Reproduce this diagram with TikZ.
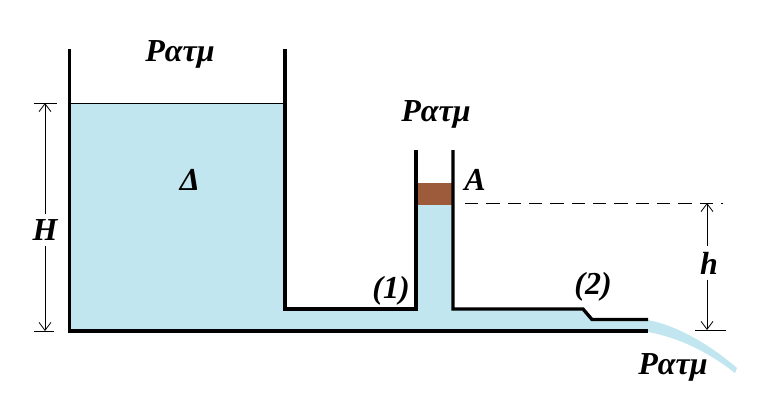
\documentclass[tikz,border=0pt]{standalone}
\usepackage{fontspec}
\setmainfont{Liberation Serif}
\usetikzlibrary{arrows.meta}
\definecolor{waterblue}{HTML}{C2E6F0}
\definecolor{pistonbrown}{HTML}{9E5B3C}
\tikzset{
	wall/.style={line width=2.5pt,line cap=butt},
	dimline/.style={line width=0.6pt,-{Straight Barb[length=6pt,width=9pt]}},
	tick/.style={line width=0.6pt},
	lbl/.style={font=\bfseries\itshape\fontsize{24}{24}\selectfont,inner sep=1pt}
}
\begin{document}
\begin{tikzpicture}[x=0.75pt,y=-0.75pt]
	\useasboundingbox (0,0) rectangle (771,412);
	% Water
	\fill[waterblue] (69,103) -- (285,103) -- (285,309) -- (416,309) -- (416,205) -- (453,205) -- (453,309) -- (583,309) -- (592,320) -- (648,320) -- (648,331) -- (69,331) -- cycle;
	\fill[waterblue] (648,320) .. controls (675,325) and (708,343) .. (737,368) -- (735,373) .. controls (708,352) and (680,338) .. (648,332) -- cycle;
	\fill[pistonbrown] (416,183) rectangle (453,205);
	% Walls
	\draw[wall] (69.5,49) -- (69.5,331) -- (648,331);
	\draw[wall] (285,49) -- (285,309) -- (416,309) -- (416,150);
	\draw[wall] (453,150) -- (453,309) -- (583,309) -- (592,319.5) -- (648,319.5);
	\draw[tick] (69,103) -- (285,103);
	% Labels
	\node[lbl] (patmtank) at (180,54) {Ρατμ};
	\node[lbl] (patmtube) at (436,114) {Ρατμ};
	\node[lbl] (patmjet) at (673,367) {Ρατμ};
	\node[lbl] (delta) at (190,180) {Δ};
	\node[lbl] (pointA) at (475,180) {A};
	\node[lbl] (sec1) at (391,291) {(1)};
	\node[lbl] (sec2) at (593,287) {(2)};
	\node[lbl,inner sep=4pt] (bigH) at (45,230) {H};
	\node[lbl,inner sep=4pt] (smallh) at (709,263) {h};
	% Dimensions
	\coordinate (Htop) at (45,103);
	\coordinate (Hbot) at (45,331);
	\coordinate (htop) at (707,203);
	\coordinate (hbot) at (707,330);
	\coordinate (dashstart) at (465,203);
	\coordinate (dashend) at (723,203);
	\draw[tick] (34,103) -- (57,103);
	\draw[tick] (34,331) -- (54,331);
	\draw[tick] (695,330) -- (726,330);
	\draw[dimline] (bigH) -- (Htop);
	\draw[dimline] (bigH) -- (Hbot);
	\draw[dimline] (htop |- smallh.north) -- (htop);
	\draw[dimline] (htop |- smallh.south) -- (hbot);
	\draw[tick,dash pattern=on 10pt off 6pt] (dashstart) -- (dashend);
\end{tikzpicture}
\end{document}
